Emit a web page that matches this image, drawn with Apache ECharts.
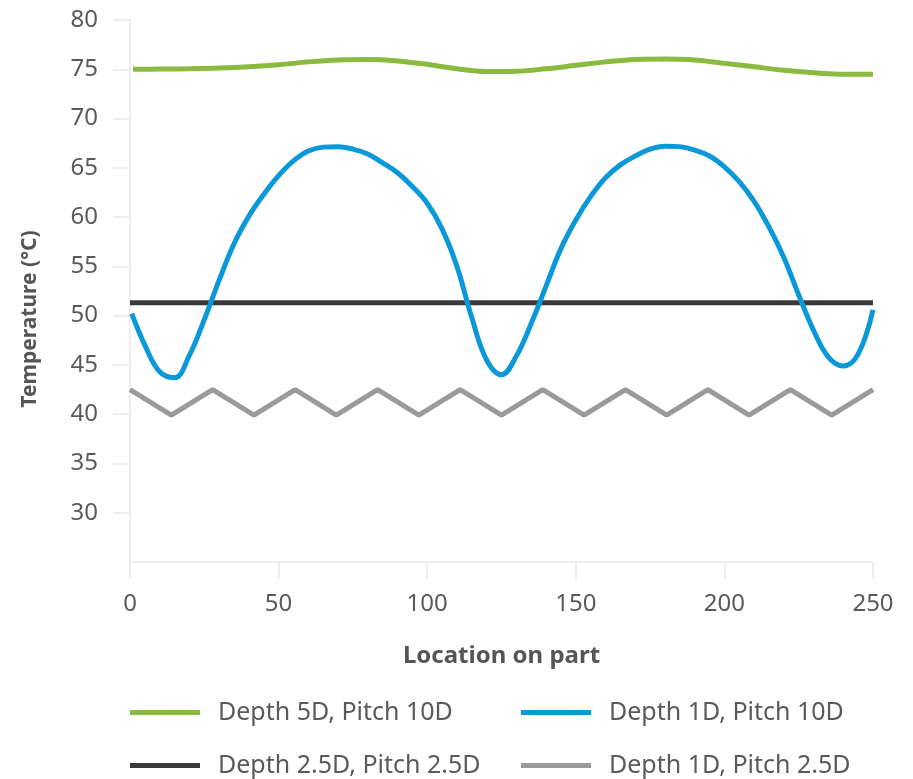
<!DOCTYPE html>
<html>
<head>
<meta charset="utf-8">
<script src="https://cdn.jsdelivr.net/npm/echarts@6/dist/echarts.min.js"></script>
<style>html,body{margin:0;padding:0;background:#fff;}#c{width:913px;height:779px;}</style>
</head>
<body>
<div id="c"></div>
<script>
const seriesNames = ['Depth 5D, Pitch 10D', 'Depth 1D, Pitch 10D', 'Depth 2.5D, Pitch 2.5D', 'Depth 1D, Pitch 2.5D'];
const yTicks = [30, 35, 40, 45, 50, 55, 60, 65, 70, 75, 80];
const xTicks = [0, 50, 100, 150, 200, 250];

const depth5Pitch10 = [
  [1, 75.0], [10, 75.02], [20, 75.05], [30, 75.12], [40, 75.25], [50, 75.45], [60, 75.75],
  [70, 75.95], [80, 76.0], [90, 75.85], [100, 75.5], [110, 75.05], [120, 74.77], [130, 74.8],
  [140, 75.05], [150, 75.4], [160, 75.75], [170, 76.0], [180, 76.05], [190, 75.95],
  [200, 75.6], [210, 75.25], [220, 74.9], [230, 74.65], [240, 74.5], [250, 74.5]
];
const depth1Pitch10 = [
  [0.6, 50.2], [5, 47.0], [10, 44.3], [15, 43.7], [20, 46.0], [25, 49.6], [30, 53.6],
  [35, 57.3], [40, 60.1], [45, 62.3], [50, 64.2], [55, 65.7], [60, 66.7], [65, 67.1],
  [70, 67.15], [75, 66.9], [80, 66.4], [85, 65.5], [90, 64.5], [95, 63.1], [100, 61.4],
  [105, 58.8], [110, 55.0], [115, 49.8], [120, 45.5], [125, 44.0], [130, 45.9], [135, 49.2],
  [140, 53.0], [145, 56.8], [150, 59.7], [155, 62.1], [160, 64.0], [165, 65.3], [170, 66.2],
  [175, 66.9], [180, 67.2], [185, 67.15], [190, 66.8], [195, 66.2], [200, 65.1], [205, 63.6],
  [210, 61.6], [215, 59.0], [220, 55.9], [225, 52.1], [230, 48.5], [235, 45.8], [240, 44.9],
  [245, 46.1], [250, 50.6]
];
const depth25Pitch25 = [[0, 51.3], [250, 51.3]];
const depth1Pitch25 = [
  [0, 42.5], [13.9, 39.9], [27.8, 42.5], [41.7, 39.9], [55.6, 42.5], [69.4, 39.9],
  [83.3, 42.5], [97.2, 39.9], [111.1, 42.5], [125, 39.9], [138.9, 42.5], [152.8, 39.9],
  [166.7, 42.5], [180.6, 39.9], [194.4, 42.5], [208.3, 39.9], [222.2, 42.5], [236.1, 39.9],
  [250, 42.5]
];

const colors = ['#8aba3e', '#0a98d8', '#3a3a3a', '#9a9a9a'];
const FONT = 'Noto Sans';
const axisColor = '#eeeeee';
const labelColor = '#5a5a5a';

function legendAt(name, left, top) {
  return {
    data: [name], left: left, top: top, icon: 'rect', itemWidth: 70, itemHeight: 5,
    padding: 0,
    textStyle: { fontFamily: FONT, fontSize: 25, color: labelColor, padding: [0, 0, 0, 13] }
  };
}

const chart = echarts.init(document.getElementById('c'), null, { renderer: 'canvas' });
chart.setOption({
  animation: false,
  color: colors,
  grid: { left: 130, right: 40, top: 20, bottom: 217, containLabel: false },
  xAxis: {
    type: 'value', min: 0, max: 250, interval: 50,
    name: 'Location on part', nameLocation: 'middle', nameGap: 82,
    nameTextStyle: { fontFamily: FONT, fontSize: 24, fontWeight: 'bold', color: '#555555' },
    axisLine: { show: true, lineStyle: { color: axisColor, width: 2 } },
    axisTick: { show: true, length: 17, lineStyle: { color: axisColor, width: 2 }, customValues: xTicks },
    axisLabel: { margin: 30, fontFamily: FONT, fontSize: 24, color: labelColor, customValues: xTicks },
    splitLine: { show: false }
  },
  yAxis: {
    type: 'value', min: 25, max: 80, interval: 5,
    name: 'Temperature (°C)', nameLocation: 'middle', nameGap: 89,
    nameTextStyle: { fontFamily: FONT, fontSize: 21, fontWeight: 'bold', color: '#555555', padding: [0, 56, 0, 0] },
    axisLine: { show: true, lineStyle: { color: axisColor, width: 2 } },
    axisTick: { show: true, length: 17, lineStyle: { color: axisColor, width: 2 }, customValues: yTicks },
    axisLabel: { margin: 32, fontFamily: FONT, fontSize: 24, color: labelColor, customValues: yTicks },
    splitLine: { show: false }
  },
  legend: [
    legendAt(seriesNames[0], 130, 700),
    legendAt(seriesNames[1], 521, 700),
    legendAt(seriesNames[2], 130, 753),
    legendAt(seriesNames[3], 521, 753)
  ],
  series: [
    { name: seriesNames[0], type: 'line', data: depth5Pitch10, smooth: 0.4, showSymbol: false, lineStyle: { width: 5 }, z: 4 },
    { name: seriesNames[1], type: 'line', data: depth1Pitch10, smooth: 0.4, showSymbol: false, lineStyle: { width: 5 }, z: 3 },
    { name: seriesNames[2], type: 'line', data: depth25Pitch25, showSymbol: false, lineStyle: { width: 5 }, z: 2 },
    { name: seriesNames[3], type: 'line', data: depth1Pitch25, showSymbol: false, lineStyle: { width: 5 }, z: 2 }
  ]
});
</script>
</body>
</html>
